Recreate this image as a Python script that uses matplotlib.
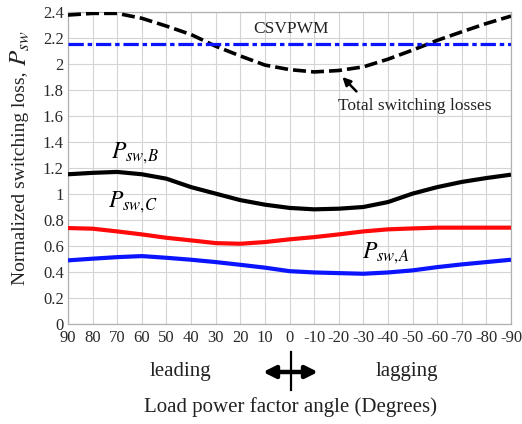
import matplotlib
matplotlib.use("Agg")
import matplotlib.pyplot as plt
from matplotlib.lines import Line2D

plt.rcParams["font.family"] = ["Liberation Serif", "DejaVu Serif"]
plt.rcParams["mathtext.fontset"] = "stix"

# Load power factor angle (degrees): leading (+) to lagging (-)
angles = [90, 80, 70, 60, 50, 40, 30, 20, 10, 0,
          -10, -20, -30, -40, -50, -60, -70, -80, -90]
tick_labels = ["90", "80", "70", "60", "50", "40", "30", "20", "10", "0",
               "-10", "-20", "-30", "-40", "-50", "-60", "-70", "-80", "-90"]

# Normalized switching losses
p_total = [2.375, 2.388, 2.388, 2.35, 2.29, 2.225, 2.135, 2.06, 1.99, 1.955,
           1.937, 1.948, 1.976, 2.035, 2.105, 2.18, 2.246, 2.31, 2.367]
p_sw_b = [1.149, 1.16, 1.167, 1.149, 1.115, 1.05, 1.0, 0.95, 0.915, 0.89,
          0.879, 0.884, 0.897, 0.935, 1.0, 1.05, 1.09, 1.12, 1.146]
p_sw_c = [0.735, 0.73, 0.709, 0.686, 0.66, 0.64, 0.619, 0.614, 0.627, 0.648,
          0.665, 0.686, 0.709, 0.725, 0.732, 0.738, 0.738, 0.738, 0.738]
p_sw_a = [0.486, 0.499, 0.511, 0.519, 0.506, 0.491, 0.473, 0.452, 0.43, 0.403,
          0.393, 0.388, 0.383, 0.393, 0.409, 0.434, 0.455, 0.473, 0.491]
csvpwm_level = 2.15

W, H = 522, 424
fig = plt.figure(figsize=(W / 100, H / 100), dpi=100)
ax = fig.add_axes([68 / W, 1 - 323.5 / H, (511 - 68) / W, (323.5 - 11.8) / H])

ax.plot(angles, p_total, color="black", lw=2.6, linestyle=(0, (3.6, 1.4)),
        dash_capstyle="butt", zorder=3)
ax.axhline(csvpwm_level, color="#0a14ff", lw=2.3,
           linestyle=(0, (4.8, 1.2, 1.4, 1.2)), zorder=3)
ax.plot(angles, p_sw_b, color="black", lw=3.0, solid_capstyle="butt", zorder=3)
ax.plot(angles, p_sw_c, color="#ff0a0a", lw=3.0, solid_capstyle="butt", zorder=3)
ax.plot(angles, p_sw_a, color="#0a14ff", lw=3.0, solid_capstyle="butt", zorder=3)

ax.set_xlim(90, -90)
ax.set_ylim(0, 2.4)
ax.set_xticks(angles)
ax.set_xticklabels(tick_labels)
ax.set_yticks([0, 0.2, 0.4, 0.6, 0.8, 1.0, 1.2, 1.4, 1.6, 1.8, 2.0, 2.2, 2.4])
ax.set_yticklabels(["0", "0.2", "0.4", "0.6", "0.8", "1", "1.2", "1.4", "1.6",
                    "1.8", "2", "2.2", "2.4"])
ax.tick_params(length=0, labelsize=12, labelcolor="#2a2a2a")
ax.tick_params(axis="y", pad=3)
ax.tick_params(axis="x", pad=5)
ax.grid(True, color="#d4d4d4", lw=0.8)
for s in ax.spines.values():
    s.set_color("#b0b0b0")
    s.set_linewidth(0.9)

# curve labels
ax.text(72.5, 1.276, r"$P_{sw,\!B}$", fontsize=17, ha="left", va="baseline")
ax.text(73.7, 0.898, r"$P_{sw,\!C}$", fontsize=17, ha="left", va="baseline")
ax.text(-29.3, 0.505, r"$P_{sw,\!A}$", fontsize=17, ha="left", va="baseline")
ax.text(-0.6, 2.27, "CSVPWM", fontsize=12.5, ha="center", va="center",
        color="#222222")
ax.text(-50.7, 1.647, "Total switching losses", fontsize=12.5, ha="center",
        va="baseline", color="#222222")
ax.annotate("", xy=(-21.5, 1.898), xytext=(-27.2, 1.787),
            arrowprops=dict(arrowstyle="-|>", color="black", lw=1.8,
                            mutation_scale=12, shrinkA=0, shrinkB=0))

# axis titles
fig.text(21 / W, 1 - 285 / H, "Normalized switching loss,", rotation=90,
         fontsize=14, ha="center", va="bottom", color="#222222")
fig.text(20 / W, 1 - 31 / H, r"$P_{sw}$", rotation=90,
         fontsize=18, ha="center", va="top", color="#222222")
fig.text(290 / W, 1 - 411.7 / H, "Load power factor angle (Degrees)",
         fontsize=15, ha="center", va="baseline", color="#222222")
fig.text(180 / W, 1 - 375.7 / H, "leading", fontsize=15, ha="center",
         va="baseline", color="#222222")
fig.text(407 / W, 1 - 375.7 / H, "lagging", fontsize=15, ha="center",
         va="baseline", color="#222222")

# direction marker below the zero angle
fig.patches.append(matplotlib.patches.FancyArrowPatch(
    (263 / W, 1 - 372 / H), (318 / W, 1 - 372 / H), transform=fig.transFigure,
    arrowstyle="<|-|>", mutation_scale=18, lw=3.2, color="black",
    shrinkA=0, shrinkB=0))
fig.lines.append(Line2D([291 / W, 291 / W], [1 - 352 / H, 1 - 390 / H],
                        transform=fig.transFigure, color="black", lw=1.6))

fig.savefig("out.png", dpi=100)
